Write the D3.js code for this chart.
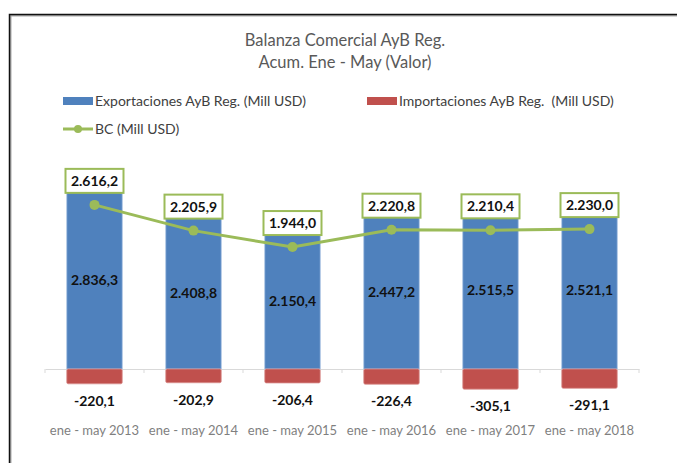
<!DOCTYPE html>
<html>
<head>
<meta charset="utf-8">
<script src="https://cdn.jsdelivr.net/npm/d3@7"></script>
<style>
  body { margin: 0; background: #fff; }
  svg { display: block; font-family: Lato, "Open Sans", sans-serif; }
</style>
</head>
<body>
<svg id="chart" width="677" height="463"></svg>
<script>
// data
var categories = ['ene - may 2013', 'ene - may 2014', 'ene - may 2015', 'ene - may 2016', 'ene - may 2017', 'ene - may 2018'];
var exportaciones = [2836.3, 2408.8, 2150.4, 2447.2, 2515.5, 2521.1];
var importaciones = [-220.1, -202.9, -206.4, -226.4, -305.1, -291.1];
var balanza = [2616.2, 2205.9, 1944.0, 2220.8, 2210.4, 2230.0];

var title_lines = ['Balanza Comercial AyB Reg.', 'Acum. Ene - May (Valor)'];
var legend_labels = ['Exportaciones AyB Reg. (Mill USD)', 'Importaciones AyB Reg.  (Mill USD)', 'BC (Mill USD)'];

var colors = {exp: '#4F81BD', imp: '#C0504D', bc: '#9BBB59'};

function fmt(v){
    // spanish format: 2.616,2
    var s = Math.abs(v).toFixed(1).split('.');
    var ent = s[0].replace(/\B(?=(\d{3})+(?!\d))/g, '.');
    return (v < 0 ? '-' : '') + ent + ',' + s[1];
}

draw_chart();

function draw_chart(){
    var svg = d3.select('#chart');

    // outer frame
    svg.append('rect').attr('x', 10.5).attr('y', 15.5).attr('width', 700).attr('height', 500)
        .attr('fill', 'none').attr('stroke', '#aaa').attr('stroke-width', 2);
    svg.append('rect').attr('x', 9.5).attr('y', 14.5).attr('width', 700).attr('height', 500)
        .attr('fill', 'none').attr('stroke', '#111').attr('stroke-width', 1.5);

    svg.selectAll('.title').data(title_lines).enter().append('text')
        .attr('x', 345).attr('y', function(d, i){ return 46 + i * 22; })
        .attr('text-anchor', 'middle').attr('font-size', 16.5).attr('fill', '#595959')
        .text(function(d){ return d; });

    draw_legend(svg);

    var x = d3.scaleBand().domain(categories).range([45, 639]).paddingInner(0.44).paddingOuter(0.22);
    var y = d3.scaleLinear().domain([-400, 3000]).range([394.1, 180.8]);

    // category axis
    var axis = svg.append('g').attr('transform', 'translate(0,' + y(0) + ')')
        .call(d3.axisBottom(x).tickSize(0).tickPadding(57));
    axis.select('.domain').attr('stroke', '#d9d9d9');
    axis.selectAll('text').attr('font-size', 13).attr('fill', '#7f7f7f')
        .attr('font-family', 'Lato, sans-serif');
    axis.selectAll('.sep').data(d3.range(categories.length + 1)).enter().append('line')
        .attr('x1', function(i){ return 45 + i * x.step(); })
        .attr('x2', function(i){ return 45 + i * x.step(); })
        .attr('y1', 0).attr('y2', 4).attr('stroke', '#d9d9d9');

    // export bars
    svg.selectAll('.exp').data(exportaciones).enter().append('rect')
        .attr('x', function(d, i){ return x(categories[i]); })
        .attr('width', x.bandwidth())
        .attr('y', function(d){ return y(d); })
        .attr('height', function(d){ return y(0) - y(d); })
        .attr('fill', colors.exp).attr('stroke', '#a7c0e0').attr('stroke-width', 0.8);

    // import bars
    svg.selectAll('.imp').data(importaciones).enter().append('rect')
        .attr('x', function(d, i){ return x(categories[i]); })
        .attr('width', x.bandwidth())
        .attr('y', y(0))
        .attr('height', function(d){ return y(d) - y(0) + 1; })
        .attr('rx', 1.5)
        .attr('fill', colors.imp).attr('stroke', '#d9918f').attr('stroke-width', 0.8);

    // export labels (centre of bar)
    svg.selectAll('.exp-lbl').data(exportaciones).enter().append('text')
        .attr('x', function(d, i){ return x(categories[i]) + x.bandwidth() / 2; })
        .attr('y', function(d){ return (y(d) + y(0)) / 2; })
        .attr('dy', '0.35em').attr('text-anchor', 'middle')
        .attr('font-size', 14).attr('font-weight', 'bold').attr('fill', '#111')
        .text(fmt);

    // import labels (below bar)
    svg.selectAll('.imp-lbl').data(importaciones).enter().append('text')
        .attr('x', function(d, i){ return x(categories[i]) + x.bandwidth() / 2; })
        .attr('y', function(d){ return y(d) + 18; })
        .attr('dy', '0.35em').attr('text-anchor', 'middle')
        .attr('font-size', 14).attr('font-weight', 'bold').attr('fill', '#111')
        .text(fmt);

    // BC line
    var line = d3.line()
        .x(function(d, i){ return x(categories[i]) + x.bandwidth() / 2; })
        .y(function(d){ return y(d); });
    svg.append('path').datum(balanza).attr('d', line)
        .attr('fill', 'none').attr('stroke', colors.bc).attr('stroke-width', 3);
    svg.selectAll('.bc-pt').data(balanza).enter().append('circle')
        .attr('cx', function(d, i){ return x(categories[i]) + x.bandwidth() / 2; })
        .attr('cy', function(d){ return y(d); })
        .attr('r', 5).attr('fill', colors.bc);

    // BC label boxes
    var lbl = svg.selectAll('.bc-lbl').data(balanza).enter().append('g')
        .attr('transform', function(d, i){
            return 'translate(' + (x(categories[i]) + x.bandwidth() / 2) + ',' + (y(d) - 24) + ')';
        });
    lbl.append('rect').attr('x', -29).attr('y', -12).attr('width', 58).attr('height', 24)
        .attr('fill', '#fff').attr('stroke', colors.bc).attr('stroke-width', 2);
    lbl.append('text').attr('text-anchor', 'middle').attr('dy', '0.35em')
        .attr('font-size', 14).attr('font-weight', 'bold').attr('fill', '#111')
        .text(fmt);
}

function draw_legend(svg){
    var items = [
        {x: 63, y: 101, type: 'bar', color: colors.exp, label: legend_labels[0]},
        {x: 367, y: 101, type: 'bar', color: colors.imp, label: legend_labels[1]},
        {x: 63, y: 129, type: 'line', color: colors.bc, label: legend_labels[2]}
    ];
    var g = svg.selectAll('.leg').data(items).enter().append('g')
        .attr('transform', function(d){ return 'translate(' + d.x + ',' + d.y + ')'; });
    g.filter(function(d){ return d.type == 'bar'; }).append('rect')
        .attr('x', 0).attr('y', -4).attr('width', 30).attr('height', 8)
        .attr('fill', function(d){ return d.color; });
    var l = g.filter(function(d){ return d.type == 'line'; });
    l.append('line').attr('x1', 0).attr('x2', 30).attr('y1', 0).attr('y2', 0)
        .attr('stroke', colors.bc).attr('stroke-width', 3);
    l.append('circle').attr('cx', 15).attr('cy', 0).attr('r', 4).attr('fill', colors.bc);
    g.append('text').attr('x', 32).attr('dy', '0.35em')
        .attr('font-size', 14).attr('fill', '#404040')
        .style('white-space', 'pre')
        .text(function(d){ return d.label; });
}
</script>
</body>
</html>
